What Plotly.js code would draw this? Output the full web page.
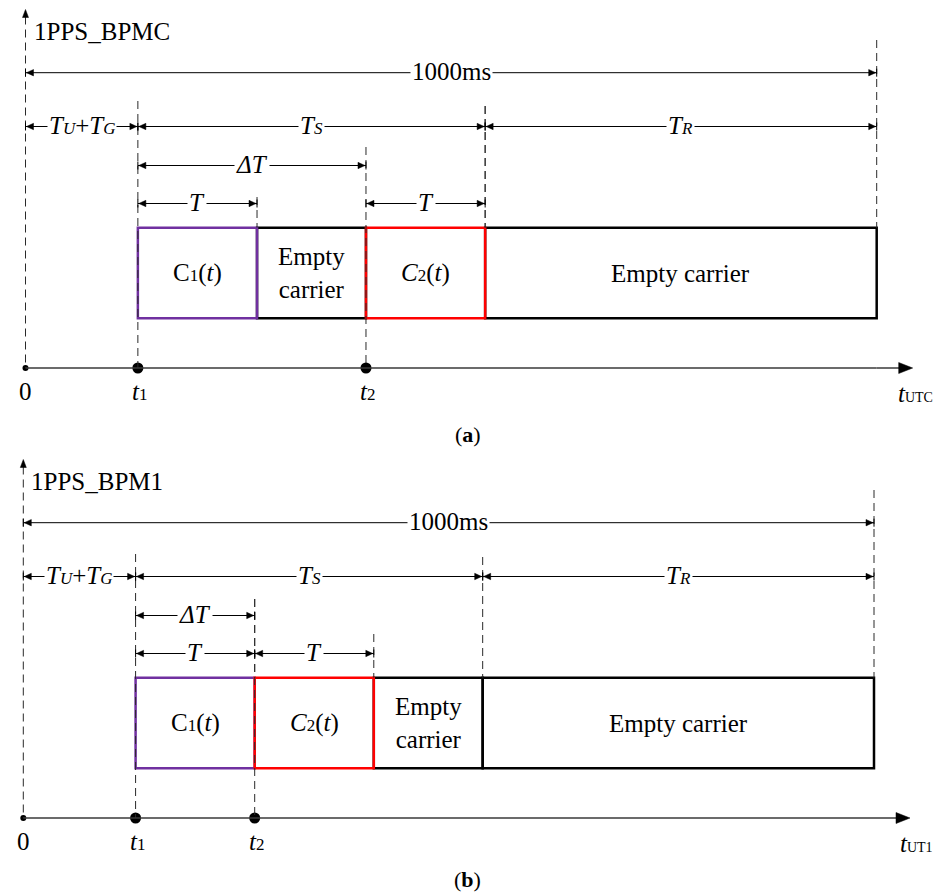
<!DOCTYPE html>
<html><head><meta charset="utf-8">
<script src="https://cdn.plot.ly/plotly-3.0.1.min.js"></script>
<style>html,body{margin:0;padding:0;background:#fff}</style>
</head><body><div id="chart" style="width:935px;height:895px"></div>
<script>
// ---------- data (milliseconds) ----------
const panelTitles = ['1PPS_BPMC', '1PPS_BPM1'];
const panelTags = ['a', 'b'];
const timeAxisSub = ['UTC', 'UT1'];
const period = [1000, 1000];   // 1000 ms frame
const t1 = [132, 132];         // start of C1 (= TU+TG)
const t2 = [400, 272];         // start of C2
const T = [140, 140];          // code length
const TSend = [540, 540];      // end of TS window

// ---------- style / layout constants ----------
const FONT = 'Liberation Serif';
const FS = 25, SUB = 17;
const PURPLE = '#7030A0', RED = '#FF0000', INK = '#000000', DASHC = '#2a2a2a';
const panelOffset = [0, 450];
const LV = {top: 9.5, title: 31, full: 72.7, row2: 126.5, dT: 165.5, Trow: 203.5,
            boxTop: 227.7, boxBot: 318.3, axis: 368, label: 391, tag: 434};
const xrefs = ['x', 'x2'];

const shapes = [], annotations = [], traces = [];

function sub(s, sz) { return '<span style="font-size:' + (sz || SUB) + 'px">' + s + '</span>'; }

for (let p = 0; p < 2; p++) {
  const xr = xrefs[p], yo = panelOffset[p];
  const Y = k => LV[k] + yo;
  const a = t1[p], b = t2[p], tt = T[p], ts = TSend[p], P = period[p];

  // ---- segments (boxes) derived from timing values ----
  const bounds = Array.from(new Set([a, a + tt, b, b + tt, ts, P])).sort((u, v) => u - v);
  const segs = [];
  for (let i = 0; i < bounds.length - 1; i++) {
    const s = bounds[i], e = bounds[i + 1];
    let kind = 'empty';
    if (s === a) kind = 'c1'; else if (s === b) kind = 'c2';
    segs.push({s, e, kind});
  }
  segs.filter(g => g.kind === 'empty').forEach(g => {
    shapes.push({type: 'rect', xref: xr, yref: 'y', x0: g.s, x1: g.e, y0: Y('boxTop'), y1: Y('boxBot'),
      line: {color: INK, width: 2.5}, fillcolor: 'rgba(0,0,0,0)', layer: 'above'});
  });
  segs.filter(g => g.kind !== 'empty').forEach(g => {
    shapes.push({type: 'rect', xref: xr, yref: 'y', x0: g.s, x1: g.e, y0: Y('boxTop'), y1: Y('boxBot'),
      line: {color: g.kind === 'c1' ? PURPLE : RED, width: 2.5}, fillcolor: 'rgba(0,0,0,0)', layer: 'above'});
  });
  segs.forEach(g => {
    let txt;
    if (g.kind === 'c1') txt = 'C' + sub('1') + '(<i>t</i>)';
    else if (g.kind === 'c2') txt = '<i>C</i>' + sub('2') + '(<i>t</i>)';
    else txt = (g.e - g.s) > 200 ? 'Empty carrier' : 'Empty<br>carrier';
    annotations.push({xref: xr, yref: 'y', x: (g.s + g.e) / 2, y: (Y('boxTop') + Y('boxBot')) / 2,
      text: txt, showarrow: false, font: {family: FONT, size: FS, color: INK}});
  });

  // ---- dashed vertical markers ----
  const dashed = [
    {x: 0, from: LV.top + 7, to: LV.axis},
    {x: a, from: p === 0 ? 101 : 104, to: LV.axis},
    {x: b, from: p === 0 ? 147 : 149, to: LV.axis},
    {x: a + tt, from: p === 0 ? 197 : 149, to: LV.boxTop},
    {x: b + tt, from: p === 0 ? 106 : 184, to: LV.boxTop},
    {x: ts, from: p === 0 ? 106 : 107, to: LV.boxTop},
    {x: P, from: 40, to: LV.boxTop}
  ];
  dashed.forEach(d => {
    shapes.push({type: 'line', xref: xr, yref: 'y', x0: d.x, x1: d.x, y0: d.from + yo, y1: d.to + yo,
      line: {color: DASHC, width: 1, dash: '8px,5px'}, layer: 'above'});
  });
  shapes.push({type: 'path', xref: xr, yref: 'y', xsizemode: 'pixel', ysizemode: 'pixel',
    xanchor: 0, yanchor: Y('top'), path: 'M0,0L-3,-8L3,-8Z', fillcolor: INK, line: {color: INK, width: 0.5}});

  // ---- time axis ----
  shapes.push({type: 'line', xref: xr, yref: 'y', x0: 0, x1: P, y0: Y('axis'), y1: Y('axis'),
    line: {color: '#3a3a3a', width: 1.5}});
  shapes.push({type: 'line', xref: xr, yref: 'y', xsizemode: 'pixel', xanchor: P, x0: 0, x1: 26,
    y0: Y('axis'), y1: Y('axis'), line: {color: '#3a3a3a', width: 1.5}});
  shapes.push({type: 'path', xref: xr, yref: 'y', xsizemode: 'pixel', ysizemode: 'pixel',
    xanchor: P, yanchor: Y('axis'), path: 'M36,0L22,-5.5L22,5.5Z', fillcolor: INK, line: {color: INK, width: 0.5}});

  // ---- dimension arrows ----
  const dims = [
    {x0: 0, x1: P, lv: 'full', txt: '1000ms'},
    {x0: 0, x1: a, lv: 'row2', txt: '<i>T' + sub('U') + '</i>+<i>T' + sub('G') + '</i>'},
    {x0: a, x1: ts, lv: 'row2', txt: '<i>T' + sub('S') + '</i>'},
    {x0: ts, x1: P, lv: 'row2', txt: '<i>T' + sub('R') + '</i>'},
    {x0: a, x1: b, lv: 'dT', txt: '<i>ΔT</i>'},
    {x0: a, x1: a + tt, lv: 'Trow', txt: '<i>T</i>'},
    {x0: b, x1: b + tt, lv: 'Trow', txt: '<i>T</i>'}
  ];
  dims.forEach(d => {
    const y = Y(d.lv);
    shapes.push({type: 'line', xref: xr, yref: 'y', x0: d.x0, x1: d.x1, y0: y, y1: y, line: {color: INK, width: 1}});
    shapes.push({type: 'path', xref: xr, yref: 'y', xsizemode: 'pixel', ysizemode: 'pixel', xanchor: d.x0, yanchor: y,
      path: 'M1,0L8,-3.2L8,3.2Z', fillcolor: INK, line: {color: INK, width: 0.5}});
    shapes.push({type: 'path', xref: xr, yref: 'y', xsizemode: 'pixel', ysizemode: 'pixel', xanchor: d.x1, yanchor: y,
      path: 'M-1,0L-8,-3.2L-8,3.2Z', fillcolor: INK, line: {color: INK, width: 0.5}});
    [d.x0, d.x1].forEach(xx => shapes.push({type: 'line', xref: xr, yref: 'y', ysizemode: 'pixel', yanchor: y,
      x0: xx, x1: xx, y0: -4, y1: 4, line: {color: INK, width: 1}}));
    annotations.push({xref: xr, yref: 'y', x: (d.x0 + d.x1) / 2, y: y, text: d.txt, showarrow: false,
      font: {family: FONT, size: FS, color: INK}, bgcolor: '#ffffff', borderpad: 1, yshift: 1});
  });

  // ---- texts ----
  annotations.push({xref: xr, yref: 'y', x: 0, y: Y('title'), xanchor: 'left', xshift: 6, text: panelTitles[p],
    showarrow: false, font: {family: FONT, size: FS, color: INK}});
  annotations.push({xref: xr, yref: 'y', x: 0, y: Y('label'), text: '0', showarrow: false,
    font: {family: FONT, size: FS, color: INK}});
  annotations.push({xref: xr, yref: 'y', x: a, y: Y('label'), xshift: 2, text: '<i>t</i>' + sub('1'), showarrow: false,
    font: {family: FONT, size: FS, color: INK}});
  annotations.push({xref: xr, yref: 'y', x: b, y: Y('label'), xshift: 2, text: '<i>t</i>' + sub('2'), showarrow: false,
    font: {family: FONT, size: FS, color: INK}});
  annotations.push({xref: 'paper', yref: 'y', x: 1, y: Y('label') + 2, xanchor: 'right', xshift: -1,
    text: '<i>t</i>' + sub(timeAxisSub[p], 14), showarrow: false, font: {family: FONT, size: FS, color: INK},
    borderpad: 0});
  annotations.push({xref: 'paper', yref: 'y', x: 0.5, y: p === 0 ? Y('tag') : 893, yanchor: p === 0 ? 'middle' : 'bottom',
    text: '(<b>' + panelTags[p] + '</b>)', showarrow: false, font: {family: FONT, size: FS - 3, color: INK},
    borderpad: 0});

  // ---- time-mark dots (from data) ----
  traces.push({type: 'scatter', mode: 'markers', xaxis: p === 0 ? 'x' : 'x2', yaxis: 'y',
    x: [a, b], y: [Y('axis'), Y('axis')], marker: {size: 11, color: INK}, hoverinfo: 'skip', showlegend: false});
  traces.push({type: 'scatter', mode: 'markers', xaxis: p === 0 ? 'x' : 'x2', yaxis: 'y',
    x: [0], y: [Y('axis')], marker: {size: 6, color: INK}, hoverinfo: 'skip', showlegend: false});
}

const layout = {
  width: 935, height: 895, margin: {l: 0, r: 0, t: 0, b: 0},
  paper_bgcolor: '#fff', plot_bgcolor: '#fff', showlegend: false,
  xaxis: {range: [-29.96, 1068.5], visible: false, fixedrange: true},
  xaxis2: {range: [-27.39, 1071.7], visible: false, overlaying: 'x', anchor: 'y', fixedrange: true},
  yaxis: {range: [895, 0], visible: false, fixedrange: true},
  shapes: shapes, annotations: annotations
};
Plotly.newPlot('chart', traces, layout, {staticPlot: true, displayModeBar: false});
</script></body></html>
